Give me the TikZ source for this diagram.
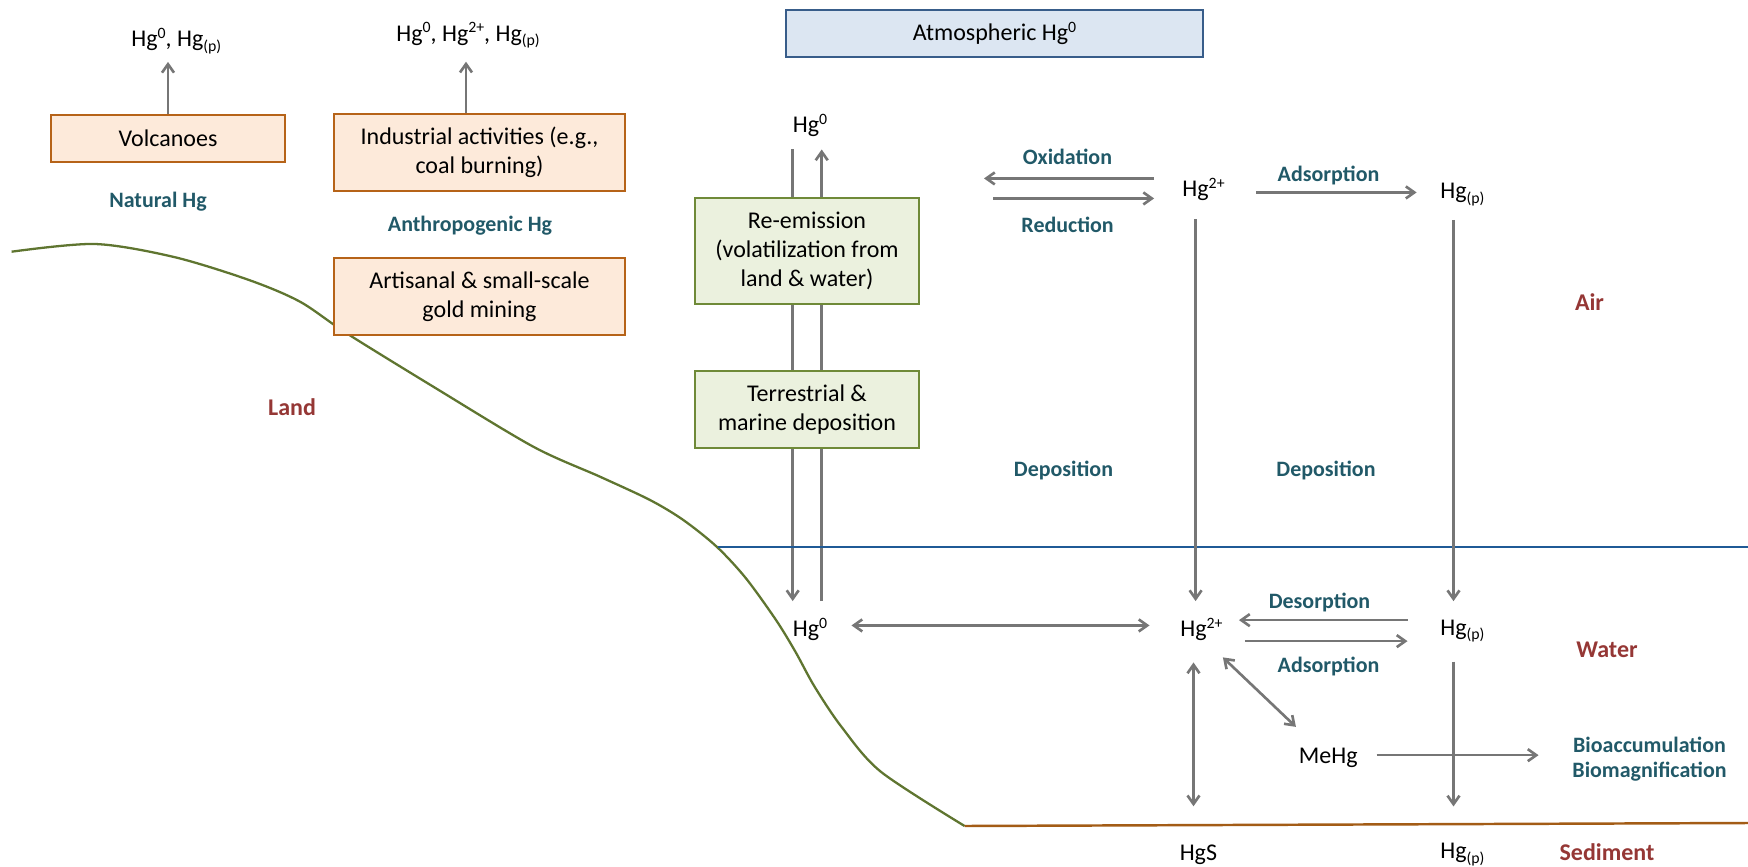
\documentclass[tikz,border=0pt]{standalone}
\usepackage{fontspec}
\setmainfont{Carlito}
\usetikzlibrary{arrows.meta,positioning,backgrounds,calc}

\definecolor{srcfill}{RGB}{253,234,218}
\definecolor{srcline}{RGB}{182,99,24}
\definecolor{procfill}{RGB}{235,241,222}
\definecolor{procline}{RGB}{111,138,56}
\definecolor{atmfill}{RGB}{220,230,242}
\definecolor{atmline}{RGB}{56,93,138}
\definecolor{tealtext}{RGB}{33,89,104}
\definecolor{zonetext}{RGB}{149,55,53}
\definecolor{arrgray}{RGB}{118,118,118}
\definecolor{landline}{RGB}{95,117,48}
\definecolor{waterline}{RGB}{31,90,150}
\definecolor{sedline}{RGB}{163,92,22}

\newcommand{\hgsup}[1]{\raisebox{0.35em}{\fontsize{9}{9}\selectfont #1}}
\newcommand{\hgsub}[1]{\raisebox{-0.2em}{\fontsize{9}{9}\selectfont #1}}

\begin{document}
\begin{tikzpicture}[x=0.2mm,y=-0.2mm,>={Straight Barb[length=1.7mm,width=2.4mm]},
  font=\fontsize{13.66}{16.5}\selectfont,
  box/.style={draw,line width=1.2pt,inner sep=0pt,align=center},
  src/.style={box,fill=srcfill,draw=srcline,minimum width=58.2mm,minimum height=15.4mm},
  proc/.style={box,fill=procfill,draw=procline,minimum width=44.9mm},
  hg/.style={inner sep=0pt,anchor=base},
  lbl/.style={inner sep=0pt,anchor=base,align=center,text=tealtext,font=\fontsize{12.5}{14.6}\selectfont\bfseries},
  zone/.style={inner sep=0pt,anchor=base,text=zonetext,font=\fontsize{13.66}{16}\selectfont\bfseries},
  arr/.style={->,draw=arrgray,line width=1.5pt},
  both/.style={<->,draw=arrgray,line width=1.5pt}]

  \useasboundingbox (0,0) rectangle (1748,867);

  % ==========================================
  % SOURCES (TOP LEFT)
  % ==========================================
  \node[src,minimum width=46.8mm,minimum height=9.4mm] (volc) at (168,138.5) {Volcanoes};
  \node[src] (indus) at (479.5,152.5) {Industrial activities (e.g.,\\coal burning)};
  \node[src,below=13mm of indus] (artis) {Artisanal \& small-scale\\gold mining};

  \node[hg,anchor=base west] (natsrc) at (131,46.7) {Hg\hgsup{0}, Hg\hgsub{(p)}};
  \node[hg,anchor=base west] (anthsrc) at (396,41) {Hg\hgsup{0}, Hg\hgsup{2+}, Hg\hgsub{(p)}};
  \node[lbl] (natural) at (158,207) {Natural Hg};
  \node[lbl] (anthro) at (470,231.7) {Anthropogenic Hg};

  \draw[arr,shorten >=1.5mm] (volc.north) -- (volc.north |- natsrc.south);
  \draw[arr,shorten >=2.6mm] ([xshift=-2.7mm]indus.north) -- ([xshift=-2.7mm]indus.north |- anthsrc.south);

  % ==========================================
  % ATMOSPHERE
  % ==========================================
  \node[box,fill=atmfill,draw=atmline,minimum width=83.4mm,minimum height=9.4mm] (atmos) at (994.5,33.5) {Atmospheric Hg\hgsup{0}};

  \node[hg] (hgairzero) at (806,132.7) {Hg\rlap{\hgsup{0}}};
  \node[hg] (hgairtwo) at (1195.6,196.7) {Hg\rlap{\hgsup{2+}}};
  \node[hg] (hgairp) at (1453.5,198.3) {Hg\rlap{\hgsub{(p)}}};

  \node[proc,minimum height=21.2mm] (reemit) at (807,251) {Re-emission\\(volatilization from\\land \& water)};
  \node[proc,minimum height=15.4mm,below=13mm of reemit] (terr) {Terrestrial \&\\marine deposition};

  \coordinate (oxEnd) at (984,179);
  \coordinate (redStart) at (993,199);
  \draw[arr,shorten <=5.6mm] ([yshift=2.2mm]hgairtwo.west) -- ([yshift=2.2mm]hgairtwo.west -| oxEnd);
  \draw[arr,shorten >=5.6mm] ([yshift=-1.8mm]hgairtwo.west -| redStart) -- ([yshift=-1.8mm]hgairtwo.west);
  \draw[arr,shorten <=9.46mm,shorten >=4.68mm] ([yshift=-0.6mm]hgairtwo.east) -- ([yshift=-0.6mm]hgairtwo.east -| hgairp.west);

  \node[lbl] (oxid) at (1067.5,164) {Oxidation};
  \node[lbl] (reduc) at (1067.6,232) {Reduction};
  \node[lbl] (adsair) at (1328.5,181.7) {Adsorption};
  \node[lbl] (depleft) at (1063.5,476.7) {Deposition};
  \node[lbl] (depright) at (1326,476.7) {Deposition};

  % ==========================================
  % WATER AND SEDIMENT
  % ==========================================
  \node[hg] (hgwzero) at (806,636.7) {Hg\rlap{\hgsup{0}}};
  \node[hg] (hgwtwo) at (1193.5,636.7) {Hg\rlap{\hgsup{2+}}};
  \node[hg] (hgwp) at (1453.5,635) {Hg\rlap{\hgsub{(p)}}};
  \node[hg] (mehg) at (1328.3,763.3) {MeHg};
  \node[hg] (hgs) at (1198.4,860) {HgS};
  \node[hg] (hgsedp) at (1453.5,858.3) {Hg\rlap{\hgsub{(p)}}};

  \node[lbl] (desorp) at (1319.5,608.3) {Desorption};
  \node[lbl] (adswater) at (1328.5,672.3) {Adsorption};
  \node[lbl,anchor=center] (bio) at (1649.5,759) {Bioaccumulation\\Biomagnification};

  \draw[arr,shorten <=3.66mm,shorten >=3.32mm] (hgairtwo.south) -- (hgairtwo.south |- hgwtwo.north);
  \draw[arr,shorten <=2.78mm,shorten >=3.62mm] (hgairp.south) -- (hgairp.south |- hgwp.north);

  \draw[both,shorten <=6.4mm,shorten >=6.1mm] ([yshift=0.8mm]hgwzero.east) -- ([yshift=0.8mm]hgwzero.east -| hgwtwo.west);
  \draw[arr,shorten <=6.5mm,shorten >=6.4mm] ([yshift=1.86mm]hgwtwo.east -| hgwp.west) -- ([yshift=1.86mm]hgwtwo.east);
  \draw[arr,shorten <=7.6mm,shorten >=6.5mm] ([yshift=-2.34mm]hgwtwo.east) -- ([yshift=-2.34mm]hgwtwo.east -| hgwp.west);
  \draw[both,shorten <=4.7mm,shorten >=6mm] (hgwtwo) -- (mehg);
  \draw[both,shorten <=4.26mm,shorten >=7.56mm] (hgwtwo.south) -- (hgwtwo.south |- hgs.north);
  \draw[arr,shorten <=3.78mm,shorten >=7.22mm] (hgwp.south) -- (hgwp.south |- hgsedp.north);
  \draw[arr,shorten <=3.7mm,shorten >=6.7mm] ([yshift=0.5mm]mehg.east) -- ([yshift=0.5mm]mehg.east -| bio.west);

  % zone names
  \node[zone] (land) at (292,415) {Land};
  \node[zone] (air) at (1589.5,310) {Air};
  \node[zone] (water) at (1607,657.3) {Water};
  \node[zone] (sediment) at (1607,860) {Sediment};

  % ==========================================
  % BACKGROUND: LAND, WATER SURFACE, SEABED
  % ==========================================
  \begin{scope}[on background layer]
      % exchange lines through the green boxes
      \draw[arr,shorten <=2.46mm,shorten >=3.32mm] ($(hgairzero.south)+(-13.3,0)$) -- ($(hgairzero.south |- hgwzero.north)+(-13.3,0)$);
      \draw[arr,shorten <=3.32mm,shorten >=2.46mm] ($(hgairzero.south |- hgwzero.north)+(15.7,0)$) -- ($(hgairzero.south)+(15.7,0)$);

      \coordinate (seabed) at (964.6,826);
      \draw[landline,line width=1.3pt] plot[smooth,tension=0.5] coordinates {(11.6,251.7) (95,244) (174,257) (249,280) (300,301.7) (346.7,333.3) (433.3,386.7) (533.3,446.7) (600,476.7) (650,500) (683.3,520) (716.7,546.7) (745.7,578) (776,620) (795.4,651.7) (814.6,686.7) (841.4,726.7) (880.8,771.7) (seabed)};
      \draw[sedline,line width=1.4pt] (seabed) -- (1748,823);
      \draw[waterline,line width=1.5pt] (717.5,547) -- (1748,547);
  \end{scope}

\end{tikzpicture}
\end{document}
